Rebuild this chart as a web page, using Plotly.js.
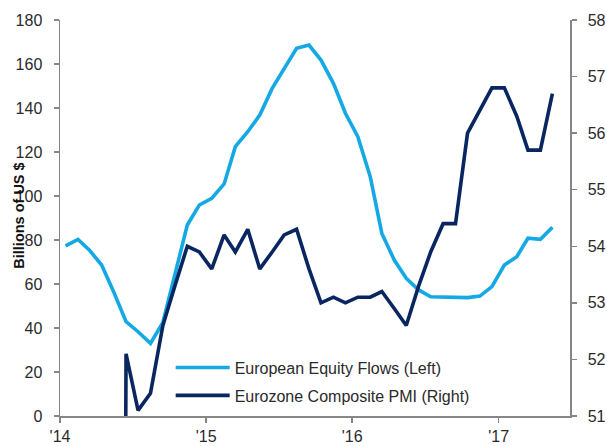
<!DOCTYPE html>
<html>
<head>
<meta charset="utf-8">
<script src="https://cdn.plot.ly/plotly-3.0.1.min.js"></script>
<style>
  html, body { margin: 0; padding: 0; background: #ffffff; }
  #chart { width: 607px; height: 446px; }
</style>
</head>
<body>
<div id="chart"></div>
<script>
// Monthly observations, Jan 2014 .. May 2017
const startYear = 2014;
const monthCount = 41;

// European Equity Flows, billions of US $ (left axis)
const equityFlows = [77.3, 80.3, 75.5, 68.6, 56.5, 42.9, 38.3, 33.0, 42.5, 65.0,
  86.8, 95.9, 98.9, 105.5, 122.4, 129.2, 136.8, 148.9, 158.0, 167.1,
  168.6, 161.8, 151.2, 137.6, 127.0, 108.8, 83.0, 70.9, 62.6, 57.3,
  54.2, 54.0, 53.8, 53.8, 54.5, 58.8, 68.6, 72.4, 80.8, 80.3, 85.8];

// Eurozone Composite PMI (right axis); leading blanks plotted as zero, as in the source
const compositePMI = [0, 0, 0, 0, 0, 52.1, 51.1, 51.4, 52.6, 53.3,
  54.0, 53.9, 53.6, 54.2, 53.9, 54.3, 53.6, 53.9, 54.2, 54.3,
  53.6, 53.0, 53.1, 53.0, 53.1, 53.1, 53.2, 52.9, 52.6, 53.3,
  53.9, 54.4, 54.4, 56.0, 56.4, 56.8, 56.8, 56.3, 55.7, 55.7, 56.7];

const yearTicks = ['2014-01-01', '2015-01-01', '2016-01-01', '2017-01-01'];
const yearLabels = ["'14", "'15", "'16", "'17"];

const seriesNames = ['European Equity Flows (Left)', 'Eurozone Composite PMI (Right)'];
const yTitle = 'Billions of US $';

const dates = [];
for (let i = 0; i < monthCount; i++) {
  const y = startYear + Math.floor(i / 12);
  const m = (i % 12) + 1;
  dates.push(y + '-' + String(m).padStart(2, '0') + '-15');
}

const LIGHT = '#14A8E4';
const NAVY = '#0A2660';
const AXIS = '#868686';
const FONT = 'Liberation Sans, Arial, sans-serif';
const TXT = '#2a2a2a';

const traces = [
  {
    x: dates, y: equityFlows, name: seriesNames[0], type: 'scatter', mode: 'lines',
    line: { color: LIGHT, width: 3.6 }, yaxis: 'y', legendgroup: 'a'
  },
  {
    x: dates, y: compositePMI, name: seriesNames[1], type: 'scatter', mode: 'lines',
    line: { color: NAVY, width: 3.6 }, yaxis: 'y2', legendgroup: 'b'
  }
];

const layout = {
  width: 607, height: 446,
  margin: { l: 60, r: 37, t: 20, b: 30, pad: 0 },
  paper_bgcolor: '#ffffff', plot_bgcolor: '#ffffff',
  font: { family: FONT, size: 16, color: TXT },
  showlegend: true,
  legend: {
    x: 0.217, y: 0.165, xanchor: 'left', yanchor: 'top',
    bgcolor: 'rgba(0,0,0,0)', borderwidth: 0,
    font: { family: FONT, size: 16, color: TXT },
    itemwidth: 54, traceorder: 'grouped', tracegroupgap: 4
  },
  xaxis: {
    type: 'date', range: ['2014-01-01', '2017-06-28'],
    tickmode: 'array', tickvals: yearTicks, ticktext: yearLabels,
    ticks: 'outside', ticklen: 5, tickcolor: AXIS, tickwidth: 1.5,
    showline: true, linecolor: AXIS, linewidth: 1.5,
    showgrid: false, zeroline: false,
    tickfont: { family: FONT, size: 16, color: TXT }
  },
  yaxis: {
    range: [0, 180], tick0: 0, dtick: 20,
    ticks: 'outside', ticklen: 5, tickcolor: AXIS, tickwidth: 1.5,
    showline: true, linecolor: AXIS, linewidth: 1.5,
    showgrid: false, zeroline: false,
    ticklabelstandoff: 8,
    tickfont: { family: FONT, size: 16, color: TXT }
  },
  yaxis2: {
    range: [51, 58], tick0: 51, dtick: 1,
    overlaying: 'y', side: 'right', anchor: 'x',
    ticks: 'outside', ticklen: 5, tickcolor: AXIS, tickwidth: 1.5,
    showline: true, linecolor: AXIS, linewidth: 1.5,
    showgrid: false, zeroline: false,
    ticklabelstandoff: 8,
    tickfont: { family: FONT, size: 16, color: TXT }
  },
  annotations: [{
    text: '<b>' + yTitle + '</b>', textangle: -90,
    xref: 'paper', yref: 'paper', x: -0.081, y: 0.505,
    xanchor: 'center', yanchor: 'middle', showarrow: false,
    font: { family: FONT, size: 14.5, color: '#111111' }
  }]
};

Plotly.newPlot('chart', traces, layout, { displayModeBar: false, staticPlot: true });
</script>
</body>
</html>
